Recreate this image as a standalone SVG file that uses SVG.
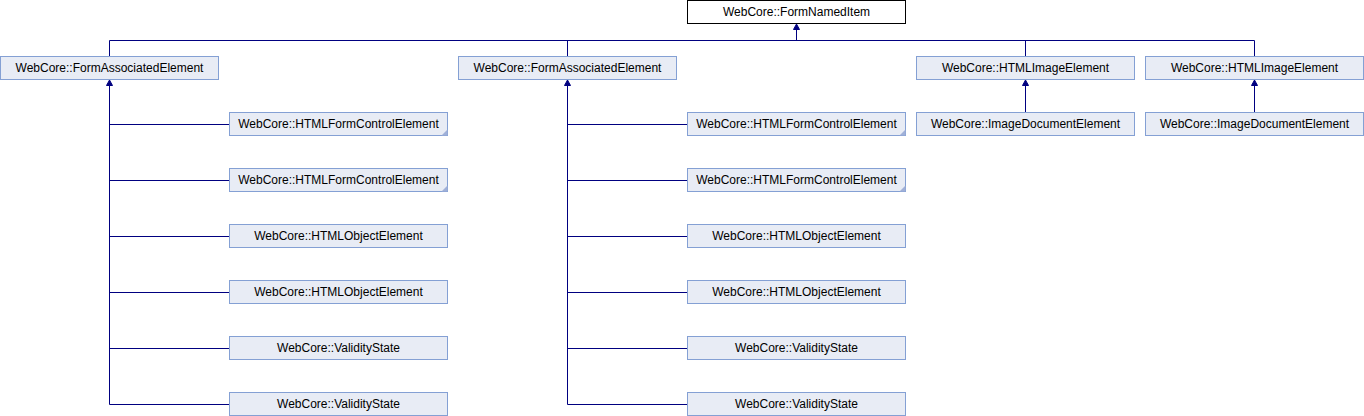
<svg xmlns="http://www.w3.org/2000/svg" width="1364" height="416" viewBox="0 0 1364 416">
<defs>
<style>
.n rect{fill:#E8ECF5;stroke:#84A0D4;stroke-width:1}
.n.root rect{fill:#FFFFFF;stroke:#000000}
.n text{font-family:"Liberation Sans",Arial,sans-serif;font-size:12px;fill:#000000;text-anchor:middle}
.n .more{fill:#A0B0D8;stroke:none}
#edges path{fill:none;stroke:#000080;stroke-width:1}
#edges polygon{fill:#000080;stroke:#000080;stroke-width:1}
</style>
</defs>
<rect width="1364" height="416" fill="#FFFFFF"/>
<g id="edges">
<path d="M109.5,40.5H1254.5M796.5,29V40.5M109.5,40.5V56.5M567.5,40.5V56.5M1025.5,40.5V56.5M1254.5,40.5V56.5"/>
<polygon points="796.5,24 793.5,29.5 799.5,29.5"/>
<path d="M109.5,85V404.5M109.5,124.5H229.5M109.5,180.5H229.5M109.5,236.5H229.5M109.5,292.5H229.5M109.5,348.5H229.5M109.5,404.5H229.5"/>
<polygon points="109.5,80 106.5,85.5 112.5,85.5"/>
<path d="M567.5,85V404.5M567.5,124.5H687.5M567.5,180.5H687.5M567.5,236.5H687.5M567.5,292.5H687.5M567.5,348.5H687.5M567.5,404.5H687.5"/>
<polygon points="567.5,80 564.5,85.5 570.5,85.5"/>
<path d="M1025.5,85V112.5M1254.5,85V112.5"/>
<polygon points="1025.5,80 1022.5,85.5 1028.5,85.5"/>
<polygon points="1254.5,80 1251.5,85.5 1257.5,85.5"/>
</g>
<g id="formNamedItem" class="n root"><rect x="687.5" y="0.5" width="218" height="23"/><text x="796.5" y="16">WebCore::FormNamedItem</text></g>
<g id="faeA" class="n"><rect x="0.5" y="56.5" width="218" height="23"/><text x="109.5" y="72">WebCore::FormAssociatedElement</text></g>
<g id="faeB" class="n"><rect x="458.5" y="56.5" width="218" height="23"/><text x="567.5" y="72">WebCore::FormAssociatedElement</text></g>
<g id="imgC" class="n"><rect x="916.5" y="56.5" width="218" height="23"/><text x="1025.5" y="72">WebCore::HTMLImageElement</text></g>
<g id="imgD" class="n"><rect x="1145.5" y="56.5" width="218" height="23"/><text x="1254.5" y="72">WebCore::HTMLImageElement</text></g>
<g id="imgDocC" class="n"><rect x="916.5" y="112.5" width="218" height="23"/><text x="1025.5" y="128">WebCore::ImageDocumentElement</text></g>
<g id="imgDocD" class="n"><rect x="1145.5" y="112.5" width="218" height="23"/><text x="1254.5" y="128">WebCore::ImageDocumentElement</text></g>
<g id="fceA1" class="n"><rect x="229.5" y="112.5" width="218" height="23"/><polygon class="more" points="447.5,129.5 447.5,135.5 441.5,135.5"/><text x="338.5" y="128">WebCore::HTMLFormControlElement</text></g>
<g id="fceA2" class="n"><rect x="229.5" y="168.5" width="218" height="23"/><polygon class="more" points="447.5,185.5 447.5,191.5 441.5,191.5"/><text x="338.5" y="184">WebCore::HTMLFormControlElement</text></g>
<g id="objA1" class="n"><rect x="229.5" y="224.5" width="218" height="23"/><text x="338.5" y="240">WebCore::HTMLObjectElement</text></g>
<g id="objA2" class="n"><rect x="229.5" y="280.5" width="218" height="23"/><text x="338.5" y="296">WebCore::HTMLObjectElement</text></g>
<g id="valA1" class="n"><rect x="229.5" y="336.5" width="218" height="23"/><text x="338.5" y="352">WebCore::ValidityState</text></g>
<g id="valA2" class="n"><rect x="229.5" y="392.5" width="218" height="23"/><text x="338.5" y="408">WebCore::ValidityState</text></g>
<g id="fceB1" class="n"><rect x="687.5" y="112.5" width="218" height="23"/><polygon class="more" points="905.5,129.5 905.5,135.5 899.5,135.5"/><text x="796.5" y="128">WebCore::HTMLFormControlElement</text></g>
<g id="fceB2" class="n"><rect x="687.5" y="168.5" width="218" height="23"/><polygon class="more" points="905.5,185.5 905.5,191.5 899.5,191.5"/><text x="796.5" y="184">WebCore::HTMLFormControlElement</text></g>
<g id="objB1" class="n"><rect x="687.5" y="224.5" width="218" height="23"/><text x="796.5" y="240">WebCore::HTMLObjectElement</text></g>
<g id="objB2" class="n"><rect x="687.5" y="280.5" width="218" height="23"/><text x="796.5" y="296">WebCore::HTMLObjectElement</text></g>
<g id="valB1" class="n"><rect x="687.5" y="336.5" width="218" height="23"/><text x="796.5" y="352">WebCore::ValidityState</text></g>
<g id="valB2" class="n"><rect x="687.5" y="392.5" width="218" height="23"/><text x="796.5" y="408">WebCore::ValidityState</text></g>
</svg>
